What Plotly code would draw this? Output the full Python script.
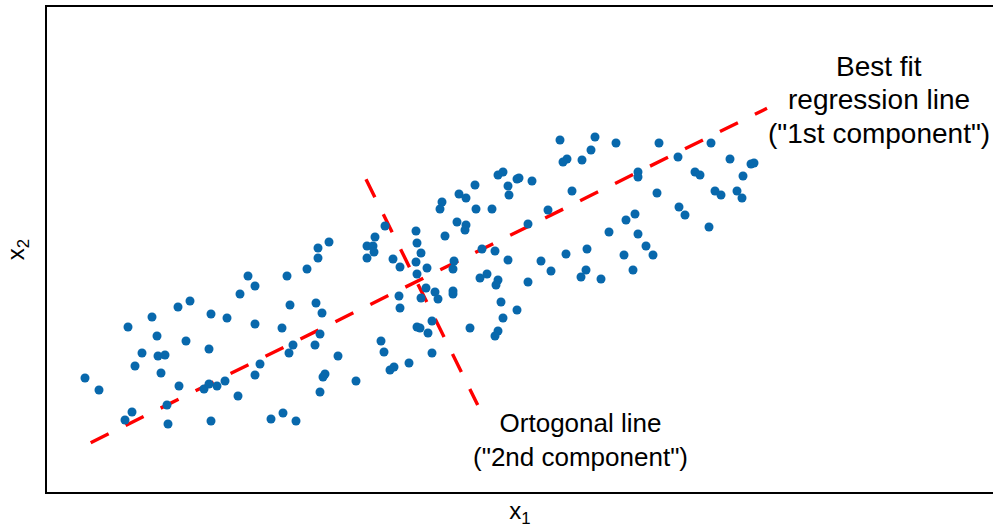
import plotly.graph_objects as go

# Observations (arbitrary units, x1 horizontal, x2 vertical)
x1 = [85, 99, 128, 152, 178, 190, 157, 142, 158, 165, 135, 161, 186, 211, 227, 209, 240, 248,
      179, 204, 209, 217, 225, 238, 167, 132, 125, 168, 211,
      329, 318, 318, 307, 255, 287, 290, 316, 322, 255, 282, 320, 293, 289, 315, 260, 255, 338,
      325, 323, 320, 356, 381, 384, 390, 394, 409, 271, 283, 296,
      375, 367, 373, 374, 367, 393, 400, 416, 417, 416, 417, 399, 400, 417, 420, 421,
      498, 503, 475, 459, 466, 442, 440, 476, 492, 508, 509, 517, 457, 466, 465, 445, 385,
      421, 427, 454, 453, 495, 508, 482, 480, 487, 498, 496, 426, 435, 438, 453, 453, 501,
      503, 517, 432, 428, 470, 498, 495, 432,
      560, 595, 616, 591, 567, 563, 582, 519, 532, 572, 548, 528, 626, 609, 541, 551, 566,
      587, 586, 581, 601, 624, 528,
      659, 711, 678, 638, 638, 695, 700, 730, 751, 754, 743, 657, 715, 721, 737, 742, 679,
      685, 635, 638, 709, 646, 653, 633]
x2 = [150, 138, 201, 211, 221, 227, 192, 175, 172, 173, 162, 155, 187, 214, 210, 179, 234, 252,
      142, 139, 144, 142, 147, 132, 123, 116, 108, 104, 107,
      286, 280, 270, 259, 242, 252, 223, 225, 215, 204, 200, 194, 183, 175, 183, 164, 153, 172,
      154, 151, 136, 147, 187, 176, 158, 161, 165, 109, 115, 107,
      291, 282, 282, 276, 270, 269, 261, 266, 254, 297, 285, 232, 220, 201, 200, 230,
      353, 356, 343, 334, 330, 326, 319, 319, 319, 342, 333, 349, 306, 303, 298, 292, 302,
      275, 260, 267, 259, 277, 268, 279, 250, 254, 248, 243, 240, 236, 229, 237, 234, 226,
      210, 218, 207, 195, 200, 197, 192, 175,
      388, 391, 385, 378, 369, 366, 368, 350, 347, 337, 318, 304, 308, 296, 267, 257, 274,
      279, 258, 251, 249, 273, 246,
      385, 385, 371, 356, 351, 356, 353, 369, 364, 365, 352, 335, 337, 333, 337, 330, 321,
      313, 314, 294, 301, 282, 273, 258]

# Principal component lines (end points)
pc1_x = [90.7, 767.0]
pc1_y = [85.3, 419.7]
pc2_x = [366.0, 477.7]
pc2_y = [348.7, 123.0]

# Annotation texts
pc1_label = ["Best fit", "regression line", "(\"1st component\")"]
pc2_label = ["Ortogonal line", "(\"2nd component\")"]

font_family = "Liberation Sans, Arial, sans-serif"

fig = go.Figure()
fig.add_trace(go.Scatter(x=pc1_x, y=pc1_y, mode="lines",
                         line=dict(color="#ff0000", width=3.4, dash="20px,19px"),
                         hoverinfo="skip", showlegend=False))
fig.add_trace(go.Scatter(x=pc2_x, y=pc2_y, mode="lines",
                         line=dict(color="#ff0000", width=3.4, dash="20px,19px"),
                         hoverinfo="skip", showlegend=False))
fig.add_trace(go.Scatter(x=x1, y=x2, mode="markers",
                         marker=dict(color="#0868ac", size=9, line=dict(width=0)),
                         showlegend=False))

# upper label, one line at a time (tight line spacing as in the reference)
for txt, yc in zip(pc1_label, [528 - 66, 528 - 99.5, 528 - 133]):
    fig.add_annotation(x=879, y=yc, xref="x", yref="y", text=txt,
                       showarrow=False, align="center",
                       font=dict(family=font_family, size=28, color="black"))
fig.add_annotation(x=580, y=528 - 440, xref="x", yref="y",
                   text="<br>".join(pc2_label),
                   showarrow=False, align="center",
                   font=dict(family=font_family, size=26, color="black"))

fig.update_layout(
    width=993, height=528,
    margin=dict(l=47, r=0, t=7, b=36, pad=0),
    paper_bgcolor="white", plot_bgcolor="white",
    font=dict(family=font_family, color="black"),
    xaxis=dict(range=[47, 993], showgrid=False, zeroline=False, showticklabels=False,
               ticks="", showline=True, linecolor="black", linewidth=1.5, mirror=True,
               title=dict(text="x<sub>1</sub>", font=dict(size=24), standoff=9),
               automargin=False),
    yaxis=dict(range=[36, 521], showgrid=False, zeroline=False, showticklabels=False,
               ticks="", showline=True, linecolor="black", linewidth=1.5, mirror=False,
               title=dict(text="x<sub>2</sub>", font=dict(size=24), standoff=14),
               automargin=False),
)

fig.write_html("out.html")
